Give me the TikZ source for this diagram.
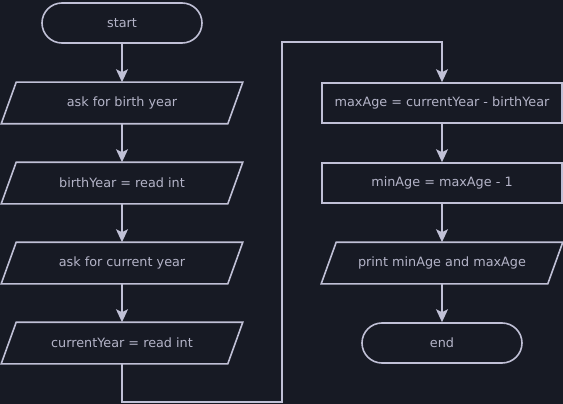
\documentclass[tikz,border=0pt]{standalone}
\usepackage{fontspec}
\setmainfont{DejaVu Sans}
\usetikzlibrary{arrows.meta}
\definecolor{bgdark}{HTML}{171A24}
\definecolor{edge}{HTML}{C0C0D6}
\definecolor{txt}{HTML}{B4B4C8}
\begin{document}
\begin{tikzpicture}[x=1pt, y=-1pt,
  box/.style={draw=edge, line width=1.6pt, text=txt, font=\fontsize{12.8}{15}\selectfont,
    minimum width=240pt, minimum height=40pt, inner sep=0pt},
  term/.style={box, rounded corners=20pt, minimum width=160pt},
  io/.style={box, draw=none},
  flow/.style={draw=edge, line width=1.6pt, -{Stealth[length=13pt, width=12pt, inset=3pt]}}]

\fill[bgdark] (0,0) rectangle (563,404);
\useasboundingbox (0,0) rectangle (563,404);

% left column
\node[term] (start) at (122,23) {start};
\node[io] (askBirth) at (122,103) {ask for birth year};
\node[io] (readBirth) at (122,183) {birthYear = read int};
\node[io] (askCurrent) at (122,263) {ask for current year};
\node[io] (readCurrent) at (122,343) {currentYear = read int};

% right column
\node[box] (maxAge) at (442,103) {maxAge = currentYear - birthYear};
\node[box] (minAge) at (442,183) {minAge = maxAge - 1};
\node[io] (printAges) at (442,263) {print minAge and maxAge};
\node[term] (stop) at (442,343) {end};

% slanted outlines of the input/output boxes
\foreach \n in {askBirth,readBirth,askCurrent,readCurrent,printAges}
  \draw[draw=edge, line width=1.6pt, line join=miter]
    ([xshift=15pt]\n.north west) -- (\n.north east)
    -- ([xshift=-15pt]\n.south east) -- (\n.south west) -- cycle;

\coordinate (loopA) at (282,402);
\coordinate (loopB) at (282,42);

\draw[flow] (start) -- (askBirth);
\draw[flow] (askBirth) -- (readBirth);
\draw[flow] (readBirth) -- (askCurrent);
\draw[flow] (askCurrent) -- (readCurrent);
\draw[flow] (readCurrent.south) |- (loopA) -- (loopB) -| (maxAge.north);
\draw[flow] (maxAge) -- (minAge);
\draw[flow] (minAge) -- (printAges);
\draw[flow] (printAges) -- (stop);

\end{tikzpicture}
\end{document}
